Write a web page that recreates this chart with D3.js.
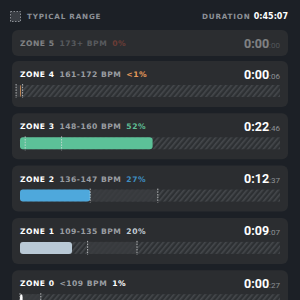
<!DOCTYPE html>
<html>
<head>
<meta charset="utf-8">
<script src="https://cdn.jsdelivr.net/npm/d3@7"></script>
<style>
  body { margin: 0; background: #1c2026; }
  svg { display: block; }
</style>
</head>
<body>
<script>
// zone data, top to bottom
var zones     = ["ZONE 5", "ZONE 4", "ZONE 3", "ZONE 2", "ZONE 1", "ZONE 0"];
var bpm       = ["173+ BPM", "161-172 BPM", "148-160 BPM", "136-147 BPM", "109-135 BPM", "<109 BPM"];
var pctLabels = ["0%", "<1%", "52%", "27%", "20%", "1%"];
var pct       = [0, 0.3, 51, 27, 20, 1];
var rangeLo   = [null, -1.5, 2, 27, 26, 0];
var rangeHi   = [null, 1, 16, 53, 45, 8];
var timeMain  = ["0:00", "0:00", "0:22", "0:12", "0:09", "0:00"];
var timeSec   = [":00", ":06", ":46", ":37", ":07", ":27"];
var pctColors = ["#c9553f", "#e69a5a", "#5fbf95", "#3f8fc2", "#c3cdd6", "#ffffff"];
var barColors = ["#c9553f", "#e69a5a", "#5cc198", "#4ea8dc", "#b9c9d6", "#ffffff"];
var totalTime = "0:45:07";

var w = 300, h = 300;
var font = "DejaVu Sans, sans-serif";

var svg = d3.select("body").append("svg")
    .attr("width", w)
    .attr("height", h);

// diagonal hatch for empty part of the bar
var defs = svg.append("defs");
var pat = defs.append("pattern")
    .attr("id", "hatch")
    .attr("patternUnits", "userSpaceOnUse")
    .attr("width", 4).attr("height", 4)
    .attr("patternTransform", "rotate(40)");
pat.append("rect").attr("width", 4).attr("height", 4).attr("fill", "#2d3033");
pat.append("rect").attr("width", 1.6).attr("height", 4).attr("fill", "#45484c");

var x = d3.scaleLinear().domain([0, 100]).range([20, 280]);
// cards for zone 4..0 share a band scale, zone 5 is a short card on top
var step = 52.3, pad = 0.12;
var y = d3.scaleBand().domain(zones.slice(1))
    .range([61, 61 + step * (5 - pad)])
    .paddingInner(pad).paddingOuter(0);

// header
svg.append("rect").attr("x", 10.5).attr("y", 11.5).attr("width", 10).attr("height", 10)
   .attr("fill", "#3a3e44").attr("stroke", "#8a8e94").attr("stroke-width", 1)
   .attr("stroke-dasharray", "1.5,1.5");
svg.append("text").attr("x", 27).attr("y", 19)
   .attr("font-family", font).attr("font-weight", "bold").attr("font-size", "7.2px")
   .attr("letter-spacing", "0.8").attr("fill", "#8c9096")
   .text("TYPICAL RANGE");
var dur = svg.append("text").attr("x", 288).attr("y", 19).attr("text-anchor", "end")
   .attr("font-family", font).attr("font-weight", "bold");
dur.append("tspan").attr("font-size", "7.2px").attr("letter-spacing", "0.8").attr("fill", "#8c9096").text("DURATION ");
dur.append("tspan").attr("font-size", "8px").attr("fill", "#ffffff").text(totalTime);

var rows = svg.selectAll("g.zone")
   .data(zones)
   .enter()
   .append("g")
   .attr("class", "zone")
   .attr("transform", function(d, i) {
      return "translate(0," + (i == 0 ? 30 : y(d)) + ")";
   });

rows.append("rect")
   .attr("x", 12).attr("y", 0)
   .attr("width", 276)
   .attr("height", function(d, i) { return i == 0 ? 26 : y.bandwidth(); })
   .attr("rx", 6)
   .attr("fill", "#2b2d30");

// zone 5 text is dimmed
var txt = rows.append("g").attr("opacity", function(d, i) { return i == 0 ? 0.4 : 1; });

var label = txt.append("text")
   .attr("x", 20)
   .attr("y", 16)
   .attr("font-family", font).attr("font-weight", "bold").attr("font-size", "7.6px")
   .attr("letter-spacing", "0.5");
label.append("tspan").attr("fill", "#ffffff").text(function(d) { return d; });
label.append("tspan").attr("dx", 5).attr("fill", "#9a9da2").text(function(d, i) { return bpm[i]; });
label.append("tspan").attr("dx", 5).attr("fill", function(d, i) { return pctColors[i]; })
   .text(function(d, i) { return pctLabels[i]; });

var tm = txt.append("text")
   .attr("x", 280).attr("y", 17.5)
   .attr("text-anchor", "end")
   .attr("font-family", "Roboto, sans-serif").attr("font-weight", "bold");
tm.append("tspan").attr("font-size", "12.5px").attr("fill", "#ffffff").text(function(d, i) { return timeMain[i]; });
tm.append("tspan").attr("font-size", "8px").attr("fill", "#8d9196").attr("font-weight", "normal")
   .text(function(d, i) { return timeSec[i]; });

// bars (not for zone 5)
var bars = rows.filter(function(d, i) { return i > 0; });

bars.append("rect")
   .attr("x", x(0)).attr("y", 24)
   .attr("width", x(100) - x(0)).attr("height", 12)
   .attr("fill", "url(#hatch)");

bars.append("rect")
   .attr("x", function(d) { var i = zones.indexOf(d); return x(rangeLo[i]); })
   .attr("y", 24)
   .attr("width", function(d) { var i = zones.indexOf(d); return x(rangeHi[i]) - x(rangeLo[i]); })
   .attr("height", 12)
   .attr("fill", "#3a3c40")
   .attr("fill-opacity", 0.85);

bars.append("rect")
   .attr("x", x(0)).attr("y", 24)
   .attr("width", function(d) { var i = zones.indexOf(d); return Math.max(0, x(pct[i]) - x(0)); })
   .attr("height", 12)
   .attr("rx", 3)
   .attr("fill", function(d) { return barColors[zones.indexOf(d)]; });

// typical range edges as dashed lines
["lo", "hi"].forEach(function(k) {
  bars.append("line")
     .attr("x1", function(d) { var i = zones.indexOf(d); return x(k == "lo" ? rangeLo[i] : rangeHi[i]); })
     .attr("x2", function(d) { var i = zones.indexOf(d); return x(k == "lo" ? rangeLo[i] : rangeHi[i]); })
     .attr("y1", 23).attr("y2", 37)
     .attr("stroke", "#d8dadc").attr("stroke-width", 0.8)
     .attr("stroke-dasharray", "1.5,1.2");
});
</script>
</body>
</html>
